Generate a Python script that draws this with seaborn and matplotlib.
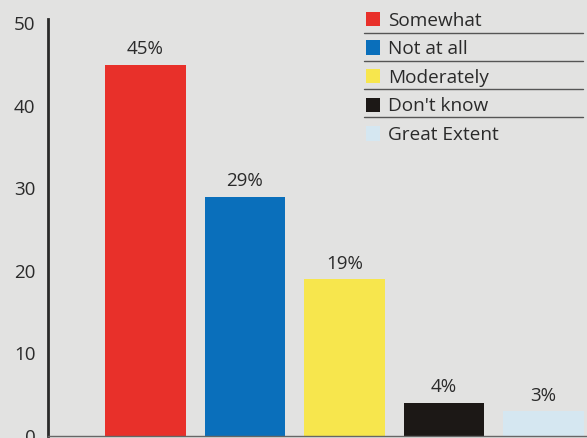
import seaborn as sns
import matplotlib.pyplot as plt
from matplotlib.patches import Patch
from matplotlib.lines import Line2D
import pandas as pd

# Data
categories = ["Somewhat", "Not at all", "Moderately", "Don't know", "Great Extent"]
values = [45, 29, 19, 4, 3]
labels = ["45%", "29%", "19%", "4%", "3%"]
colors = ["#e8302a", "#0a6fbb", "#f7e64d", "#1c1816", "#d5e7f1"]

df = pd.DataFrame({"category": categories, "value": values})

bg = "#e2e2e1"
txt = "#2a2a2a"

sns.set_style("white")
plt.rcParams['font.family'] = ['Open Sans', 'DejaVu Sans']

fig = plt.figure(figsize=(5.87, 4.38), dpi=100, facecolor=bg)
ax = fig.add_axes([48/587, 2/438, 539/587, 417.5/438])
ax.set_facecolor(bg)

sns.barplot(data=df, x="category", y="value", hue="category",
            palette=colors, width=0.81, legend=False, ax=ax,
            saturation=1, linewidth=0)

for i, (v, s) in enumerate(zip(values, labels)):
    ax.text(i, v + 0.8, s, ha='center', va='bottom', fontsize=13.5, color=txt)

ax.set_xlim(-0.98, 4.44)
ax.set_ylim(0, 50.6)
ax.set_yticks([0, 10, 20, 30, 40, 50])
ax.tick_params(axis='y', length=0, pad=9, labelsize=13.5, labelcolor=txt)
ax.set_xticks([])
ax.set_xlabel("")
ax.set_ylabel("")

for side in ['top', 'right']:
    ax.spines[side].set_visible(False)
ax.spines['left'].set_color('#2a2a2a')
ax.spines['left'].set_linewidth(2)
ax.spines['bottom'].set_color('#666666')
ax.spines['bottom'].set_linewidth(1)

handles = [Patch(facecolor=c, edgecolor='none') for c in colors]
leg = fig.legend(handles, categories, loc='upper left',
                 bbox_to_anchor=(356/587, 1 - 2/438), frameon=False,
                 fontsize=13.7, handlelength=0.78, handleheight=0.78,
                 handletextpad=0.4, labelspacing=0.56, borderpad=0)
for t in leg.get_texts():
    t.set_color(txt)

for yy in [33, 61, 89, 117]:
    fig.add_artist(Line2D([364/587, 583/587], [1 - yy/438] * 2,
                          transform=fig.transFigure, color='#555555', lw=1))

fig.savefig("out.png", dpi=100, facecolor=bg)
